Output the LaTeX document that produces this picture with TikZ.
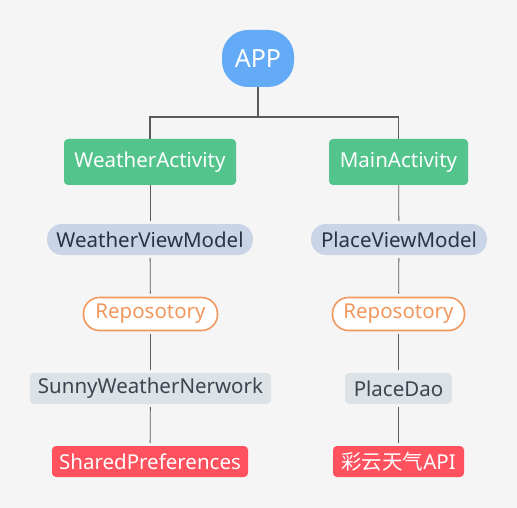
\documentclass[tikz,border=0pt]{standalone}
\usepackage{fontspec}
\setmainfont{Noto Sans}
\newfontfamily\cjk{Noto Sans CJK SC}
\definecolor{bg}{HTML}{F5F5F5}
\definecolor{appblue}{HTML}{63ABF7}
\definecolor{actgreen}{HTML}{52C48C}
\definecolor{vmfill}{HTML}{C9D4E6}
\definecolor{vmtext}{HTML}{26344A}
\definecolor{repo}{HTML}{F0985E}
\definecolor{netfill}{HTML}{DCE2E5}
\definecolor{nettext}{HTML}{3A4550}
\definecolor{redfill}{HTML}{FF525E}
\definecolor{linegray}{HTML}{5A5A5A}
\tikzset{
  base/.style={inner sep=0pt, align=center, font=\fontsize{20.5}{24}\selectfont},
  appbox/.style={base, fill=appblue, text=white, rounded corners=26pt, minimum width=72pt, minimum height=57pt, font=\fontsize{25}{28}\selectfont},
  actbox/.style={base, fill=actgreen, text=white, rounded corners=4pt, minimum height=46pt},
  vmbox/.style={base, fill=vmfill, text=vmtext, rounded corners=15pt, minimum height=31pt},
  repobox/.style={base, fill=white, draw=repo, line width=1.6pt, text=repo, rounded corners=16pt, minimum height=33pt},
  netbox/.style={base, fill=netfill, text=nettext, rounded corners=4pt, minimum height=31pt},
  redbox/.style={base, fill=redfill, text=white, rounded corners=4pt, minimum height=31pt},
  tree/.style={draw=linegray, line width=1.8pt},
  link/.style={draw=linegray, line width=0.8pt, shorten >=3pt, shorten <=3pt},
}
\begin{document}
\begin{tikzpicture}[x=1pt,y=-1pt]
\fill[bg] (0,0) rectangle (517,508);
\useasboundingbox (0,0) rectangle (517,508);
\node[appbox] (app) at (258,58.5) {APP};
\node[actbox, minimum width=172pt] (wa) at (150,162) {WeatherActivity};
\node[actbox, minimum width=139pt] (ma) at (398.5,162) {MainActivity};
\node[vmbox, minimum width=206pt] (wvm) at (150,239.5) {WeatherViewModel};
\node[vmbox, minimum width=176pt] (pvm) at (399,239.5) {PlaceViewModel};
\node[repobox, minimum width=134pt] (r1) at (150.5,314) {Reposotory};
\node[repobox, minimum width=132pt] (r2) at (398.5,314) {Reposotory};
\node[netbox, minimum width=241pt] (net) at (150.5,388.5) {SunnyWeatherNerwork};
\node[netbox, minimum width=107pt] (dao) at (398.5,388.5) {PlaceDao};
\node[redbox, minimum width=196pt] (sp) at (150,461.5) {SharedPreferences};
\node[redbox, minimum width=131pt] (api) at (398.5,461.5) {{\cjk 彩云天气}API};
\coordinate (mid) at (258,117);
\draw[tree] (app.south) -- (mid) -| (wa.north);
\draw[tree] (mid) -| (ma.north);
\draw[link, shorten <=0pt] (wa) -- (wvm);
\draw[link] (wvm) -- (r1);
\draw[link] (r1) -- (net);
\draw[link] (net) -- (sp);
\draw[link, shorten <=0pt] (ma) -- (pvm);
\draw[link] (pvm) -- (r2);
\draw[link] (r2) -- (dao);
\draw[link] (dao) -- (api);
\end{tikzpicture}
\end{document}
